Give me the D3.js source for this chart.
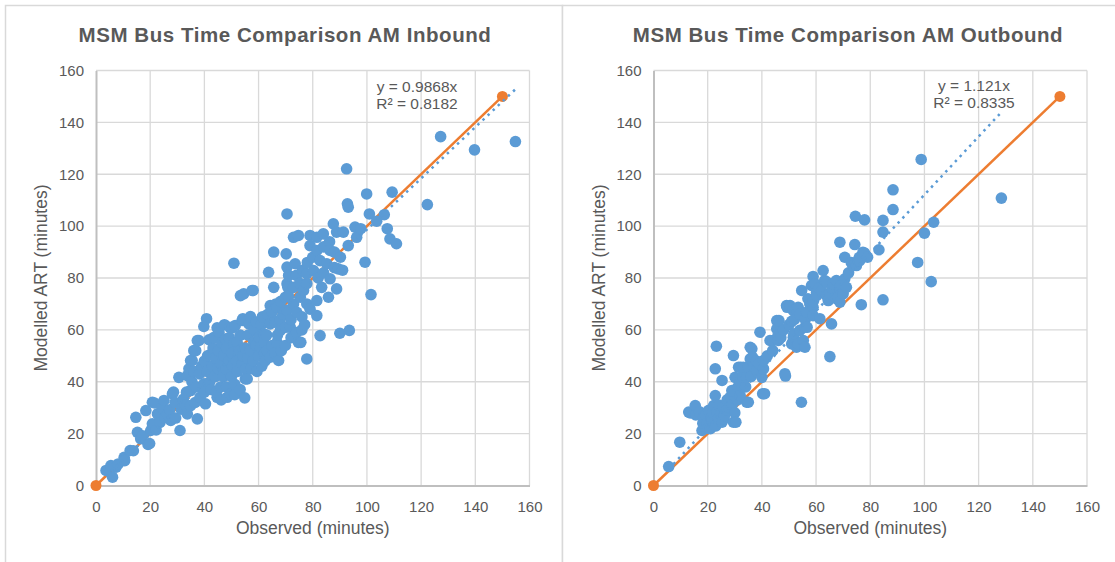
<!DOCTYPE html>
<html>
<head>
<meta charset="utf-8">
<script src="https://cdn.jsdelivr.net/npm/d3@7"></script>
<style>
  body { margin: 0; background: #fff; }
  svg { display: block; font-family: "Liberation Sans", Arial, sans-serif; }
</style>
</head>
<body>
<svg id="chart" width="1115" height="562"></svg>
<script>
// Axis ticks shared by both charts (minutes)
const axisTicks = [0, 20, 40, 60, 80, 100, 120, 140, 160];

// Chart titles
const chartTitles = ["MSM Bus Time Comparison AM Inbound", "MSM Bus Time Comparison AM Outbound"];

// Linear trendlines through the origin: slope and R²
const trendSlopes = [0.9868, 1.121];
const trendR2 = [0.8182, 0.8335];

// 1:1 reference line end points
const parityLine = [[0, 0], [150, 150]];

// AM Inbound: [observed, modelled] minutes
const inboundPoints = [
  [3.7,5.8],[5.5,7.7],[6.1,3.2],[7.4,7.1],[8.2,8.3],[10.4,10.9],[10.6,9.6],[12.6,13.5],[13.8,13.4],[14.7,26.3],
  [15.3,20.5],[16.5,18],[17.2,19.2],[18.4,28.9],[19.2,15.8],[19.8,16.2],[20.2,21.2],[20.8,23.8],[20.8,32.1],[21.6,31.8],
  [22.2,21.4],[22.7,27.6],[23.3,27],[23.6,24.3],[24.4,30],[25.1,32.8],[25.4,26.2],[26.4,27.4],[27.2,29.2],[27.6,25.1],
  [28.2,35.3],[28.6,36],[29.2,32],[29.4,26],[30.6,41.7],[31,21.2],[31.4,29.4],[32.2,33.2],[33,31],[33.7,42.4],
  [33.7,27.6],[33.4,36],[34.3,45],[34.9,48.2],[34.9,36.6],[34.9,30.8],[35.4,40],[35.5,48.2],[36.1,52],[36.2,44],
  [36.6,32],[36.8,52],[37,38],[37.4,55.9],[37.4,25.7],[38,55.9],[38.2,43],[38.4,34],[39,46],[39.8,61.3],
  [39.8,39.2],[40,36],[40,48],[40.4,31.5],[40.8,64.3],[41,44],[41.2,50],[41.7,56.2],[42,40],[42.2,50.5],
  [42.4,37],[43,46],[43.2,53],[43.4,57],[44,42],[44.2,49],[44.7,60.8],[44.7,34],[44.4,36],[45,45],
  [45.2,52],[45.4,59],[46,38],[46.2,47],[46.4,55],[46.2,33],[47,42],[47.2,50],[47.4,62],[47.8,56.5],
  [48,45],[48.2,53],[48.2,38],[48.4,34],[49,48],[49.2,57],[49.4,61],[49.6,35.3],[50,42],[50.2,51],
  [50.4,46],[50.2,60.8],[50.9,85.7],[51,55],[51.2,39],[51.2,35],[51.4,61.7],[52,48],[52.2,44],[52.1,55.2],
  [53,52],[53.2,58],[53.2,37],[53.3,73.2],[53.9,63.6],[54,47],[54.2,50],[54.2,64.3],[54.5,73.9],[54.9,33.8],
  [55,53],[55.2,45],[55.1,41.1],[55.8,41.1],[56,49],[56.2,58],[56.4,62.3],[57,65.1],[57,52],[57.2,45],
  [57.6,75.2],[58,75.2],[58,48],[58.2,55.2],[58.4,60],[59,54],[59.2,63],[59.4,44],[60,50],[60.2,57],
  [60.7,53.3],[61,62],[61.2,46],[61.4,65],[61.9,58.5],[62,55],[62.2,51],[62.4,48],[63,58],[63.1,52],
  [63.4,66],[63.7,82.2],[64.3,69.4],[64.3,62.3],[64.3,49.5],[65,54],[65,67],[65.6,76.4],[65.6,90],[66,63],
  [66,51],[66.4,70],[66.8,68.7],[66.8,55.2],[67,58],[67.4,48.2],[68,59.8],[68,64],[68.2,71],[68.4,52],
  [69,66],[69.9,54],[69.9,72.6],[70,61],[70.2,89.3],[70.5,67.5],[70.5,77.8],[70.5,104.7],[70.5,84.2],[70.8,76.4],
  [71.1,81],[71,73],[71.7,61],[72,64],[72,57],[72.9,76.4],[72.9,70],[72.9,95.7],[73.5,85.5],[74,59],
  [74.1,66.8],[74,81],[74.7,96.4],[74.7,55.2],[75.2,78],[75.4,72.6],[75.6,55.2],[76,60],[76,65],[76.2,83],
  [76.6,75.2],[77,62],[77.8,77.8],[77.8,81.6],[77.8,70],[77.8,48.8],[78,86],[79,96.4],[79,92.5],[79,68],
  [80,88],[80.3,82.9],[81.5,95.7],[81.5,90.6],[81.5,71.3],[81.5,65.5],[82,80],[82.7,86.7],[82.7,57.8],[83.3,76.4],
  [83.9,97],[84,92],[84,82],[85.2,85.5],[85.8,72.6],[86.2,94],[86.4,90.6],[86.4,79.7],[87.6,100.9],[88,90],
  [88,84],[88.8,75.8],[88.8,97.7],[89.4,83.5],[90,58.7],[90.2,88],[91,83],[91.3,97.7],[92.5,122.1],[92.8,108.6],
  [93.1,107.3],[93.1,92.5],[93.5,59.8],[95.6,99.6],[96.2,95.7],[97.7,99],[99.3,86.1],[99.9,112.4],[100.9,104.7],[101.5,73.6],
  [103.6,101.9],[106.4,104.4],[107.5,99],[108.5,95.1],[109.3,113.1],[110.9,93.2],[122.3,108.3],[127.2,134.5],[139.7,129.4],[154.8,132.6]
];

// AM Outbound: [observed, modelled] minutes
const outboundPoints = [
  [5.6,7.3],[9.7,16.7],[13,28.3],[13.6,28],[15.4,30.8],[15.6,27.2],[17,28.4],[17.9,21.2],[18.2,24],[18.5,26.3],
  [19.2,27],[19.7,23.8],[20.2,22],[20.4,29],[21,21.9],[21.2,26],[21.6,25.1],[22,28],[22.2,30.8],[22.2,24.4],
  [22.8,34.7],[22.8,45],[23.2,53.7],[23,23],[23.4,28.3],[24,26],[24.2,31],[25,28],[25.3,40.5],[25.3,24.4],
  [25.8,25.7],[25.8,30.2],[26.2,27],[27,29],[27.2,33],[28,30],[28.3,34],[28.9,36.6],[29,31],[29.5,24.4],
  [29.5,50.1],[30,28],[30.1,41.7],[30.4,24.4],[31,33],[31.2,38],[31.4,45.6],[32,34.7],[32,40],[32.2,45.6],
  [33,42],[33.2,45.6],[34,38],[34.4,41.7],[34.4,32.1],[35,45.6],[35,32.1],[35.7,48.8],[35.7,53.3],[36,42],
  [36.3,52.7],[36.5,49.5],[37,46],[38,48],[38.1,44.3],[39,47],[39.3,59.1],[40,41.7],[40.3,35.4],[40.6,45],
  [40.6,48.2],[41,35.4],[42,50],[43,55.9],[44,52],[44.2,55.9],[45.5,63.6],[45.5,60.4],[46,58],[46.1,55.9],
  [46.3,63.6],[47,57],[48,60],[48.5,43.1],[48.7,42.2],[49.1,69.4],[49.3,68.7],[50,62],[50.4,69.4],[51,63.3],
  [51,54.6],[51.6,57.2],[51.6,67.5],[51.8,58.5],[52,64],[52.8,68.1],[52.8,53.3],[53.4,68.7],[53.4,54.6],[54,59.8],
  [54,66],[54.6,32.1],[54.7,75.2],[55.3,55.9],[55.9,61],[55.9,53.3],[56,64],[56.5,66.8],[56.7,61],[57,72],
  [57.7,70],[58.3,77.1],[58.9,80.6],[58.9,68.7],[58.9,65.5],[59,71],[59.6,77.8],[60.2,74.5],[60.2,73.2],[61,76],
  [61.4,64.3],[62,75],[62.6,82.9],[63.2,79],[63.9,78.4],[63.9,73.2],[64.5,71.3],[65,74],[65.1,49.7],[65.7,62.3],
  [66,76],[66.3,77.8],[67.5,79],[67.5,72],[68.1,72.6],[68.8,93.8],[68.8,75.8],[68.8,70.7],[69,77],[70,73.9],
  [70.6,79.7],[70.6,88],[71.2,76.4],[72,82],[73,86],[73.6,84.8],[74.3,92.9],[74.5,103.8],[74.9,84.8],[75.5,86.7],
  [76,88],[76.1,86.7],[76.7,69.7],[77.3,89.9],[77.9,102.4],[77.9,89.6],[79,88],[83.2,90.9],[84.7,102.2],[84.7,97.7],
  [84.7,71.6],[88.4,114],[88.4,106.4],[97.5,86],[98.8,125.7],[100,97.3],[102.5,78.6],[103.4,101.5],[128.4,110.8]
];

const BLUE = "#5B9BD5";
const ORANGE = "#ED7D31";
const TEXT = "#595959";
const GRID = "#d9d9d9";

const svg = d3.select("#chart");

// Panel frames (shared divider between the two charts)
svg.append("rect").attr("x", 5.5).attr("y", 5.5).attr("width", 557).attr("height", 600)
  .attr("fill", "#fff").attr("stroke", GRID).attr("stroke-width", 1.5);
svg.append("rect").attr("x", 562.5).attr("y", 5.5).attr("width", 560).attr("height", 600)
  .attr("fill", "#fff").attr("stroke", GRID).attr("stroke-width", 1.5);

const panels = [
  { points: inboundPoints, title: chartTitles[0], slope: trendSlopes[0], r2: trendR2[0],
    left: 96, right: 529.5, titleX: 285, eqX: 417, eqY: 88 },
  { points: outboundPoints, title: chartTitles[1], slope: trendSlopes[1], r2: trendR2[1],
    left: 653.5, right: 1087, titleX: 848, eqX: 974, eqY: 87 }
];

panels.forEach(p => {
  const g = svg.append("g");
  const x = d3.scaleLinear().domain([0, 160]).range([p.left, p.right]);
  const y = d3.scaleLinear().domain([0, 160]).range([485.5, 70.5]);

  // Title
  g.append("text").attr("x", p.titleX).attr("y", 42).attr("text-anchor", "middle")
    .attr("fill", TEXT).attr("font-size", "20.5px").attr("font-weight", "bold")
    .attr("letter-spacing", "0.55px")
    .text(p.title);

  // Gridlines
  g.append("g").selectAll("line").data(axisTicks.slice(1)).join("line")
    .attr("x1", d => x(d)).attr("x2", d => x(d)).attr("y1", y(0)).attr("y2", y(160))
    .attr("stroke", GRID).attr("stroke-width", 1.3);
  g.append("g").selectAll("line").data(axisTicks.slice(1)).join("line")
    .attr("x1", x(0)).attr("x2", x(160)).attr("y1", d => y(d)).attr("y2", d => y(d))
    .attr("stroke", GRID).attr("stroke-width", 1.3);

  // Axes
  const xAxis = d3.axisBottom(x).tickValues(axisTicks).tickSize(0).tickPadding(12);
  const yAxis = d3.axisLeft(y).tickValues(axisTicks).tickSize(0).tickPadding(12);
  const gx = g.append("g").attr("transform", `translate(0,${y(0)})`).call(xAxis);
  const gy = g.append("g").attr("transform", `translate(${x(0)},0)`).call(yAxis);
  [gx, gy].forEach(a => {
    a.select(".domain").attr("stroke", "#bfbfbf").attr("stroke-width", 2);
    a.selectAll("text").attr("fill", TEXT).attr("font-size", "15px")
      .attr("font-family", "Liberation Sans, Arial, sans-serif");
  });
  gx.selectAll("text").attr("dy", "0.95em");

  // Axis titles
  g.append("text").attr("x", (p.left + p.right) / 2).attr("y", 534).attr("text-anchor", "middle")
    .attr("fill", TEXT).attr("font-size", "17.5px").text("Observed (minutes)");
  g.append("text").attr("transform", `translate(${p.left - 49},${(y(0) + y(160)) / 2}) rotate(-90)`)
    .attr("text-anchor", "middle").attr("fill", TEXT).attr("font-size", "17.5px")
    .text("Modelled ART (minutes)");

  // 1:1 line
  g.append("path").datum(parityLine)
    .attr("d", d3.line().x(d => x(d[0])).y(d => y(d[1])))
    .attr("stroke", ORANGE).attr("stroke-width", 2.5).attr("fill", "none");

  // Observed vs modelled points
  g.append("g").selectAll("circle").data(p.points).join("circle")
    .attr("cx", d => x(d[0])).attr("cy", d => y(d[1])).attr("r", 5.8)
    .attr("fill", BLUE);

  // 1:1 line end markers
  g.append("g").selectAll("circle").data(parityLine).join("circle")
    .attr("cx", d => x(d[0])).attr("cy", d => y(d[1])).attr("r", 5.5)
    .attr("fill", ORANGE);

  // Trendline through origin over the observed range
  const xs = p.points.map(d => d[0]);
  const trend = [d3.min(xs), d3.max(xs)].map(v => [v, v * p.slope]);
  g.append("path").datum(trend)
    .attr("d", d3.line().x(d => x(d[0])).y(d => y(d[1])))
    .attr("stroke", BLUE).attr("stroke-width", 2.5).attr("fill", "none")
    .attr("stroke-dasharray", "2.5,4.5");

  // Trendline equation
  g.append("text").attr("x", p.eqX).attr("y", p.eqY).attr("text-anchor", "middle")
    .attr("fill", TEXT).attr("font-size", "15.5px").attr("dominant-baseline", "middle")
    .text(`y = ${p.slope}x`);
  g.append("text").attr("x", p.eqX).attr("y", p.eqY + 17).attr("text-anchor", "middle")
    .attr("fill", TEXT).attr("font-size", "15.5px").attr("dominant-baseline", "middle")
    .text(`R² = ${p.r2}`);
});
</script>
</body>
</html>
